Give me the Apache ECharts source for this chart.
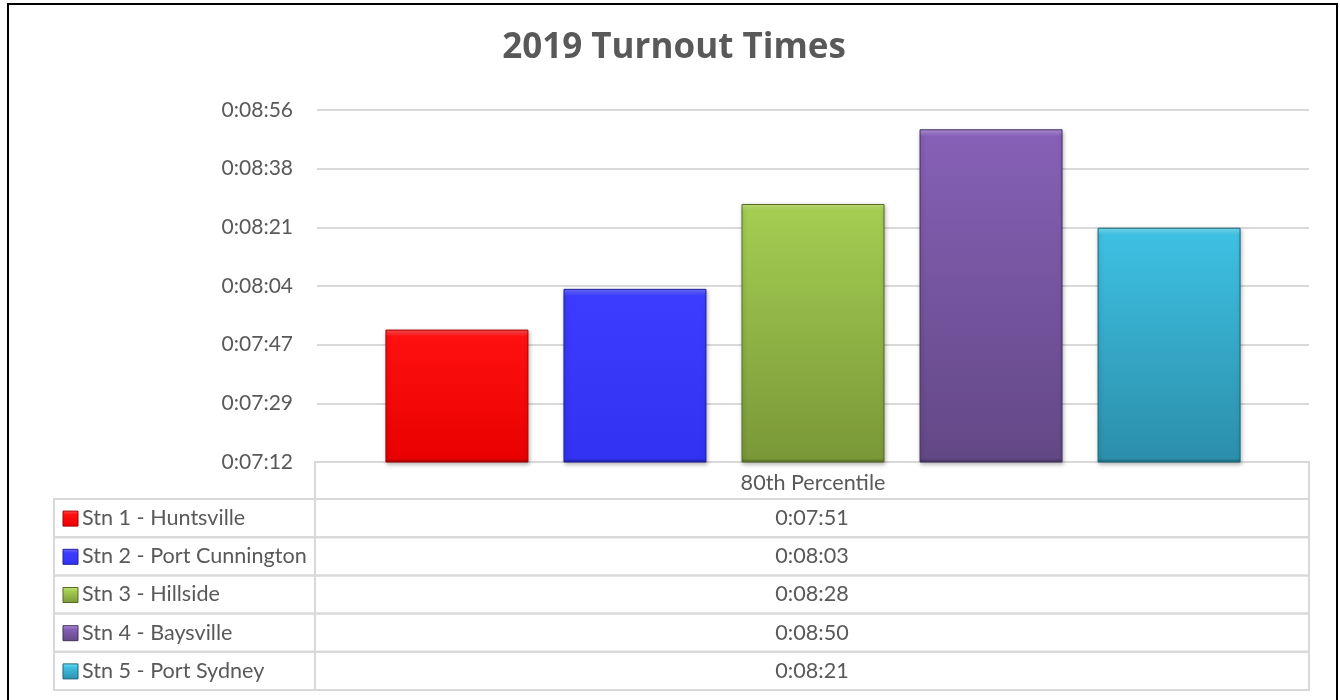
<!DOCTYPE html>
<html>
<head>
<meta charset="utf-8">
<script src="https://cdn.jsdelivr.net/npm/echarts@6/dist/echarts.min.js"></script>
<style>
  html, body { margin: 0; padding: 0; background: #fff; }
  #main { width: 1340px; height: 700px; }
</style>
</head>
<body>
<div id="main"></div>
<script>
// data, times in seconds
var categories = ['80th Percentile'];
var stations = ['Stn 1 - Huntsville', 'Stn 2 - Port Cunnington', 'Stn 3 - Hillside', 'Stn 4 - Baysville', 'Stn 5 - Port Sydney'];
var turnoutSecs = [471, 483, 508, 530, 501]; // 7:51, 8:03, 8:28, 8:50, 8:21
// excel axis: 0:07:12 .. 0:08:56 step 0.0002 day = 17.28 s
var axisMin = 432;
var axisMax = 535.68;
var axisStep = 17.28;

// colours per station: [bevel light, top, bottom, border]
var barColors = [
  ['#ff5050', '#ff1010', '#ea0000', '#a80000'],
  ['#7070ff', '#3c3cff', '#3232f2', '#2020a0'],
  ['#c4e47c', '#a4cd52', '#7a9838', '#556a26'],
  ['#b496e0', '#8660b6', '#634886', '#44305c'],
  ['#7ae4fa', '#3ec0e2', '#2b8fab', '#1c6478']
];

function fmtTime(s) {
  s = Math.round(s);
  var h = Math.floor(s / 3600);
  var m = Math.floor((s % 3600) / 60);
  var sec = s % 60;
  return h + ':' + (m < 10 ? '0' : '') + m + ':' + (sec < 10 ? '0' : '') + sec;
}

var FONT = 'Lato, "Open Sans", sans-serif';
var TXT = '#595959';
var LINE = '#d9d9d9';
var plotH = 352;

var myChart = echarts.init(document.getElementById('main'));

var series = stations.map(function (name, i) {
  var c = barColors[i];
  // thin lighter band on top to mimic the excel bevel
  var hPx = (turnoutSecs[i] - axisMin) / (axisMax - axisMin) * plotH;
  var b = 7 / hPx;
  return {
    name: name,
    type: 'bar',
    barWidth: 143,
    barGap: '24.5%',
    data: [turnoutSecs[i]],
    itemStyle: {
      color: new echarts.graphic.LinearGradient(0, 0, 0, 1, [
        { offset: 0, color: c[0] },
        { offset: b, color: c[1] },
        { offset: 1 - b * 0.6, color: c[2] },
        { offset: 1, color: c[3] }
      ]),
      borderColor: c[3],
      borderWidth: 1,
      shadowColor: 'rgba(0,0,0,0.28)',
      shadowBlur: 4,
      shadowOffsetX: 1,
      shadowOffsetY: 2
    }
  };
});

// data table below the plot
var tLeft = 54, tDiv = 315, tRight = 1309;
var tTop = 462, hdrBottom = 499, rowH = 38.2;
var graphics = [];

// outer chart border
graphics.push({
  type: 'rect', silent: true,
  shape: { x: 8, y: 4, width: 1329, height: 700 },
  style: { fill: null, stroke: '#000', lineWidth: 2 }
});

// title, centred on the chart box
graphics.push({
  type: 'text', silent: true,
  x: 674, y: 48,
  style: {
    text: '2019 Turnout Times', fill: TXT,
    font: 'bold 35px "Open Sans", Lato, sans-serif',
    textAlign: 'center', textVerticalAlign: 'middle'
  }
});

// header cell
graphics.push({
  type: 'rect', silent: true,
  shape: { x: tDiv, y: tTop, width: tRight - tDiv, height: hdrBottom - tTop },
  style: { fill: null, stroke: LINE, lineWidth: 2 }
});

stations.forEach(function (name, i) {
  var y0 = hdrBottom + i * rowH;
  var cy = y0 + rowH / 2;
  var c = barColors[i];
  graphics.push({
    type: 'rect', silent: true,
    shape: { x: tLeft, y: y0, width: tDiv - tLeft, height: rowH },
    style: { fill: null, stroke: LINE, lineWidth: 2 }
  });
  graphics.push({
    type: 'rect', silent: true,
    shape: { x: tDiv, y: y0, width: tRight - tDiv, height: rowH },
    style: { fill: null, stroke: LINE, lineWidth: 2 }
  });
  // legend key
  graphics.push({
    type: 'rect', silent: true,
    shape: { x: 63, y: cy - 7, width: 15, height: 15 },
    style: {
      fill: new echarts.graphic.LinearGradient(0, 0, 0, 1, [
        { offset: 0, color: c[0] }, { offset: 0.25, color: c[1] }, { offset: 1, color: c[2] }
      ]),
      stroke: c[3], lineWidth: 1
    }
  });
  graphics.push({
    type: 'text', silent: true,
    x: 82, y: cy,
    style: { text: name, fill: TXT, font: '21.6px ' + FONT, textVerticalAlign: 'middle', textAlign: 'left' }
  });
  graphics.push({
    type: 'text', silent: true,
    x: (tDiv + tRight) / 2, y: cy,
    style: { text: fmtTime(turnoutSecs[i]), fill: TXT, font: '21.6px ' + FONT, textVerticalAlign: 'middle', textAlign: 'center' }
  });
});

var option = {
  backgroundColor: '#fff',
  animation: false,
  grid: { left: 317, right: 31, top: 110, bottom: 238, containLabel: false },
  xAxis: {
    type: 'category',
    data: categories,
    axisLine: { show: false },
    axisTick: { show: false },
    axisLabel: { color: TXT, fontSize: 21.6, fontFamily: FONT, margin: 10 }
  },
  yAxis: {
    type: 'value',
    min: axisMin,
    max: axisMax,
    interval: axisStep,
    axisLine: { show: false },
    axisTick: { show: false },
    splitLine: { lineStyle: { color: LINE, width: 2 } },
    axisLabel: { color: TXT, fontSize: 21, fontFamily: FONT, margin: 24, formatter: fmtTime }
  },
  series: series,
  graphic: graphics
};

if (option && typeof option === 'object') {
  myChart.setOption(option, true);
}
</script>
</body>
</html>
